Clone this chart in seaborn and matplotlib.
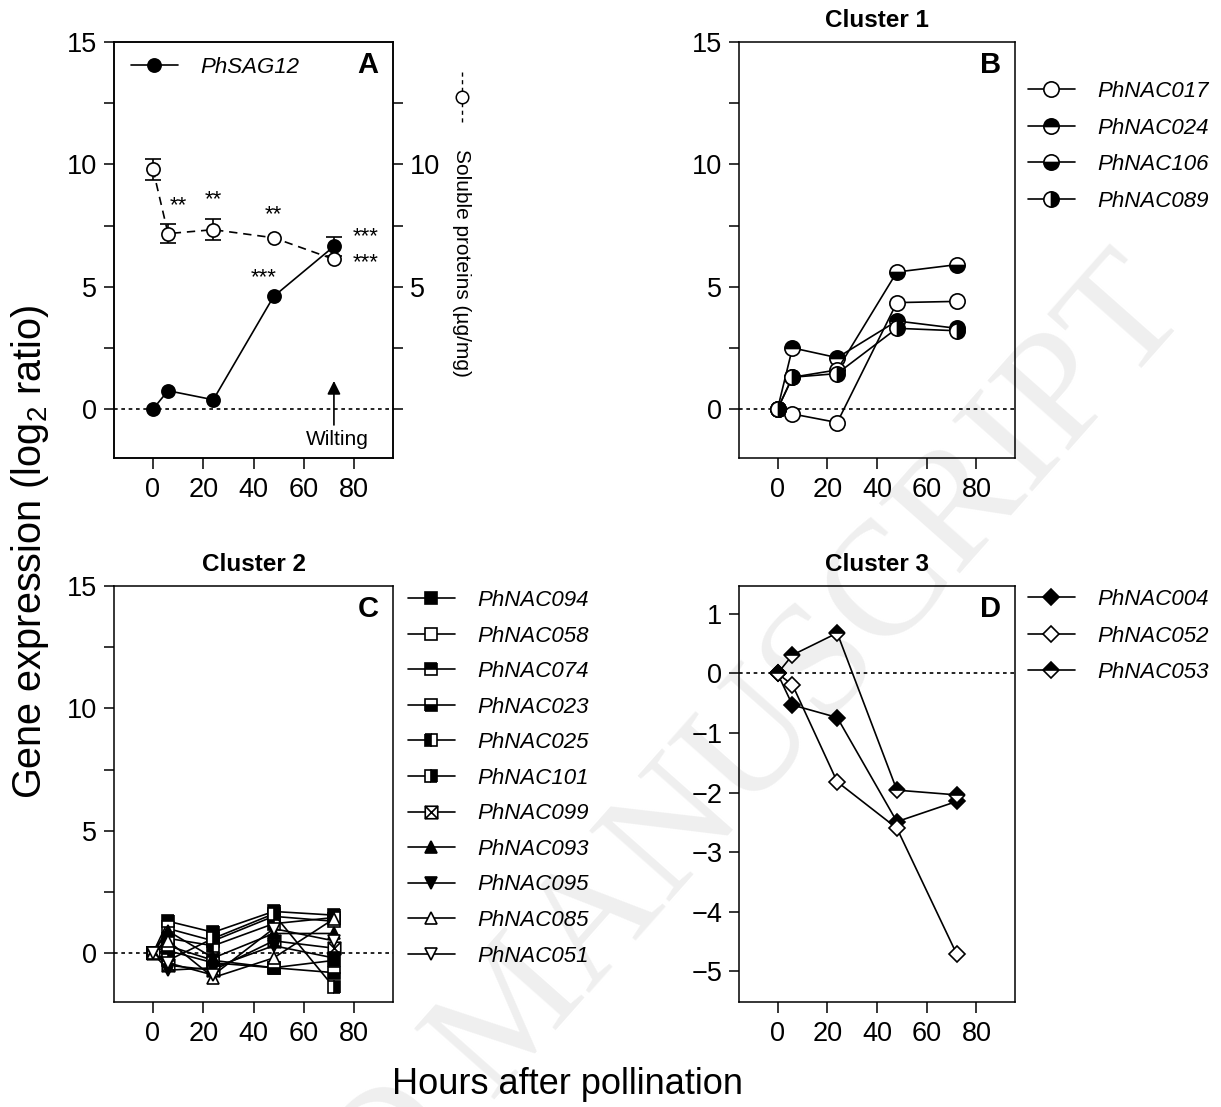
import matplotlib
matplotlib.use("Agg")
import matplotlib.pyplot as plt
from matplotlib.path import Path
import seaborn as sns

# ---------------------------------------------------------------- data
hours = [0, 6, 24, 48, 72]

# Panel A: senescence marker and soluble protein content
sag12 = [0.0, 0.75, 0.38, 4.6, 6.65]
sag12_err = [0.0, 0.0, 0.0, 0.0, 0.4]
protein = [9.8, 7.17, 7.33, 7.0, 6.12]
protein_err = [0.42, 0.38, 0.42, 0.0, 0.0]

# Cluster 1
cluster1_genes = ["PhNAC017", "PhNAC024", "PhNAC106", "PhNAC089"]
cluster1_values = [
    [0.0, -0.2, -0.55, 4.35, 4.4],
    [0.0, 2.5, 2.1, 3.6, 3.3],
    [0.0, 1.3, 1.6, 5.6, 5.9],
    [0.0, 1.3, 1.45, 3.3, 3.2],
]

# Cluster 2
cluster2_genes = ["PhNAC094", "PhNAC058", "PhNAC074", "PhNAC023", "PhNAC025",
                  "PhNAC101", "PhNAC099", "PhNAC093", "PhNAC095", "PhNAC085",
                  "PhNAC051"]
cluster2_values = [
    [0.0, 0.3, -0.3, -0.6, -0.3],
    [0.0, 1.0, 0.5, 1.5, 1.3],
    [0.0, 1.3, 0.85, 1.7, 1.55],
    [0.0, 0.1, -0.4, -0.6, -0.8],
    [0.0, 0.6, 0.3, 1.2, 1.45],
    [0.0, -0.3, 0.6, 1.6, -1.4],
    [0.0, -0.5, -0.7, 0.5, 0.2],
    [0.0, 0.9, -0.2, 0.8, 0.8],
    [0.0, -0.7, -0.6, 0.3, -0.2],
    [0.0, 0.5, -1.0, -0.2, 1.4],
    [0.0, -0.4, -0.9, 1.0, 0.5],
]

# Cluster 3
cluster3_genes = ["PhNAC004", "PhNAC052", "PhNAC053"]
cluster3_values = [
    [0.0, -0.53, -0.74, -2.49, -2.15],
    [0.0, -0.19, -1.82, -2.6, -4.71],
    [0.0, 0.31, 0.68, -1.96, -2.04],
]

# ---------------------------------------------------------------- styles
crossed_square = Path(
    [(-1, -1), (1, -1), (1, 1), (-1, 1), (-1, -1),
     (-1, -1), (1, 1), (-1, 1), (1, -1)],
    [Path.MOVETO, Path.LINETO, Path.LINETO, Path.LINETO, Path.CLOSEPOLY,
     Path.MOVETO, Path.LINETO, Path.MOVETO, Path.LINETO])


def mstyle(marker, fill="full", face="black", alt="white", size=10):
    return dict(marker=marker, fillstyle=fill, markerfacecolor=face,
                markerfacecoloralt=alt, markersize=size)


cluster1_styles = [
    mstyle("o", face="white", size=11),
    mstyle("o", fill="top", size=11),
    mstyle("o", fill="bottom", size=11),
    mstyle("o", fill="right", size=11),
]
cluster2_styles = [
    mstyle("s", size=9),
    mstyle("s", face="white", size=9),
    mstyle("s", fill="top", size=9),
    mstyle("s", fill="bottom", size=9),
    mstyle("s", fill="left", size=9),
    mstyle("s", fill="right", size=9),
    mstyle(crossed_square, face="white", size=9),
    mstyle("^", size=9),
    mstyle("v", size=9),
    mstyle("^", face="white", size=9),
    mstyle("v", face="white", size=9),
]
cluster3_styles = [
    mstyle("D", size=8),
    mstyle("D", face="white", size=8),
    mstyle("D", fill="top", size=8),
]

LW = 1.2
DOT = (0, (2.2, 2.2))

sns.set_theme(style="ticks")
plt.rcParams.update({
    "font.family": ["Liberation Sans", "DejaVu Sans"],
    "mathtext.fontset": "custom",
    "mathtext.rm": "Liberation Sans",
    "mathtext.it": "Liberation Sans:italic",
    "text.color": "black",
    "axes.labelcolor": "black",
    "axes.titlecolor": "black",
    "axes.linewidth": 1.1,
    "axes.edgecolor": "black",
    "xtick.color": "black",
    "ytick.color": "black",
    "xtick.labelcolor": "black",
    "ytick.labelcolor": "black",
    "xtick.major.width": 1.1,
    "ytick.major.width": 1.1,
    "ytick.minor.width": 1.1,
    "xtick.major.size": 8,
    "ytick.major.size": 7,
    "ytick.minor.size": 7,
    "xtick.labelsize": 19.5,
    "ytick.labelsize": 19.5,
})

fig = plt.figure(figsize=(12.21, 11.07), dpi=100)
W, H = 1221, 1107


def add_axes(left, top, right, bottom):
    ax = fig.add_axes([left / W, 1 - bottom / H, (right - left) / W, (bottom - top) / H])
    ax.set_facecolor("none")
    return ax


axA = add_axes(114, 42, 393, 458)
axB = add_axes(739, 42, 1015, 458)
axC = add_axes(114, 586, 393, 1002)
axD = add_axes(739, 586, 1015, 1002)

legend_font = {"family": "Liberation Sans", "style": "italic", "size": 16}


def draw_series(ax, values, style, label, **extra):
    sns.lineplot(x=hours, y=values, ax=ax, color="black", linewidth=LW,
                 markeredgecolor="black", markeredgewidth=1.2, label=label,
                 legend=False, errorbar=None, zorder=3, **style, **extra)


def finish_axes(ax, ylim, yticks, letter, minor=None):
    ax.set_xlim(-15.5, 95.5)
    ax.set_xticks([0, 20, 40, 60, 80])
    ax.set_ylim(*ylim)
    ax.set_yticks(yticks)
    if minor is not None:
        ax.set_yticks(minor, minor=True)
    ax.axhline(0, color="black", linestyle=DOT, linewidth=1.2, zorder=1)
    ax.text(0.91, 0.945, letter, transform=ax.transAxes, ha="center",
            va="center", fontsize=21, fontweight="bold")
    ax.tick_params(axis="x", pad=6)
    ax.tick_params(axis="y", pad=5)
    for s in ax.spines.values():
        s.set_visible(True)


# ---------------------------------------------------------------- panel A
draw_series(axA, sag12, mstyle("o", size=9.5), "PhSAG12")
mask = [i for i, e in enumerate(sag12_err) if e > 0]
axA.errorbar([hours[i] for i in mask], [sag12[i] for i in mask],
             yerr=[sag12_err[i] for i in mask], fmt="none", ecolor="black",
             elinewidth=LW, capsize=6, capthick=LW, zorder=2)
finish_axes(axA, (-2, 15), [0, 5, 10, 15], "A", minor=[2.5, 7.5, 12.5])

axA2 = axA.twinx()
axA2.set_facecolor("none")
axA2.set_ylim(-2, 15)
axA2.set_yticks([0, 2.5, 5, 7.5, 10, 12.5])
axA2.set_yticklabels(["", "", "5", "", "10", ""])
axA2.tick_params(axis="y", pad=5)
sns.lineplot(x=hours, y=protein, ax=axA2, color="black", linewidth=LW,
             linestyle=(0, (5, 3.5)), marker="o", markersize=9.5,
             markerfacecolor="white", markeredgecolor="black",
             markeredgewidth=1.2, legend=False, errorbar=None, zorder=3)
mask = [i for i, e in enumerate(protein_err) if e > 0]
axA2.errorbar([hours[i] for i in mask], [protein[i] for i in mask],
              yerr=[protein_err[i] for i in mask], fmt="none", ecolor="black",
              elinewidth=LW, capsize=6, capthick=LW, zorder=2)

# significance marks
stars = [(10, 8.3, "**"), (24, 8.55, "**"), (48, 7.95, "**"),
         (44, 5.35, "***"), (84.5, 7.05, "***"), (84.5, 6.0, "***")]
for x, y, s in stars:
    axA.text(x, y, s, ha="center", va="center", fontsize=16)

axA.annotate("", xy=(72, 1.15), xytext=(72, -0.65),
             arrowprops=dict(arrowstyle="-|>", color="black", lw=1.2,
                             mutation_scale=20, shrinkA=0, shrinkB=0))
axA.text(73.5, -1.25, "Wilting", ha="center", va="center", fontsize=15)

# right axis caption with its own line symbol
axA2.text(1.247, 0.47, "Soluble proteins (µg/mg)", transform=axA2.transAxes,
          rotation=270, ha="center", va="center", fontsize=15)
axA2.plot([1.247, 1.247, 1.247], [0.928, 0.868, 0.808],
          transform=axA2.transAxes, clip_on=False, color="black", lw=1.0,
          linestyle=(0, (3, 2.5)), marker="o", markevery=[1], markersize=9,
          markerfacecolor="white", markeredgecolor="black", markeredgewidth=1.1)

axA.legend(loc="upper left", bbox_to_anchor=(131 / W, 1 - 57 / H),
           bbox_transform=fig.transFigure, frameon=False, prop=legend_font,
           handlelength=2.1, handletextpad=1.0, borderpad=0, borderaxespad=0)

# ---------------------------------------------------------------- panel B
for vals, st, g in zip(cluster1_values, cluster1_styles, cluster1_genes):
    draw_series(axB, vals, st, g)
finish_axes(axB, (-2, 15), [0, 5, 10, 15], "B", minor=[2.5, 7.5, 12.5])
axB.set_title("Cluster 1", fontsize=17.5, fontweight="bold", pad=10.5)

# ---------------------------------------------------------------- panel C
for vals, st, g in zip(cluster2_values, cluster2_styles, cluster2_genes):
    draw_series(axC, vals, st, g)
finish_axes(axC, (-2, 15), [0, 5, 10, 15], "C", minor=[2.5, 7.5, 12.5])
axC.set_title("Cluster 2", fontsize=17.5, fontweight="bold", pad=10.5)

# ---------------------------------------------------------------- panel D
for vals, st, g in zip(cluster3_values, cluster3_styles, cluster3_genes):
    draw_series(axD, vals, st, g)
finish_axes(axD, (-5.52, 1.47), [-5, -4, -3, -2, -1, 0, 1], "D")
axD.set_title("Cluster 3", fontsize=17.5, fontweight="bold", pad=10.5)

# ---------------------------------------------------------------- legends
for ax, x0, top, spacing in [(axB, 1028, 81, 0.7), (axC, 408, 590, 0.655),
                             (axD, 1028, 589, 0.7)]:
    ax.legend(loc="upper left", bbox_to_anchor=(x0 / W, 1 - top / H),
              bbox_transform=fig.transFigure, frameon=False, prop=legend_font,
              handlelength=2.1, handletextpad=1.0, labelspacing=spacing,
              borderpad=0, borderaxespad=0)

# ---------------------------------------------------------------- shared labels
fig.text(30 / W, 1 - 552 / H, "Gene expression (log$_2$ ratio)", rotation=90,
         ha="center", va="center", fontsize=28.5)
fig.text(567 / W, 1 - 1085 / H, "Hours after pollination", ha="center",
         va="center", fontsize=26)

# faint diagonal stamp behind the panels
fig.text(548 / W, 1 - 1040 / H, "ACCEPTED MANUSCRIPT", rotation=48.5,
         rotation_mode="anchor", ha="center", va="baseline", fontsize=118,
         family="Liberation Serif", color="#efefef", zorder=-5)

fig.savefig("out.png", dpi=100, facecolor="white")
